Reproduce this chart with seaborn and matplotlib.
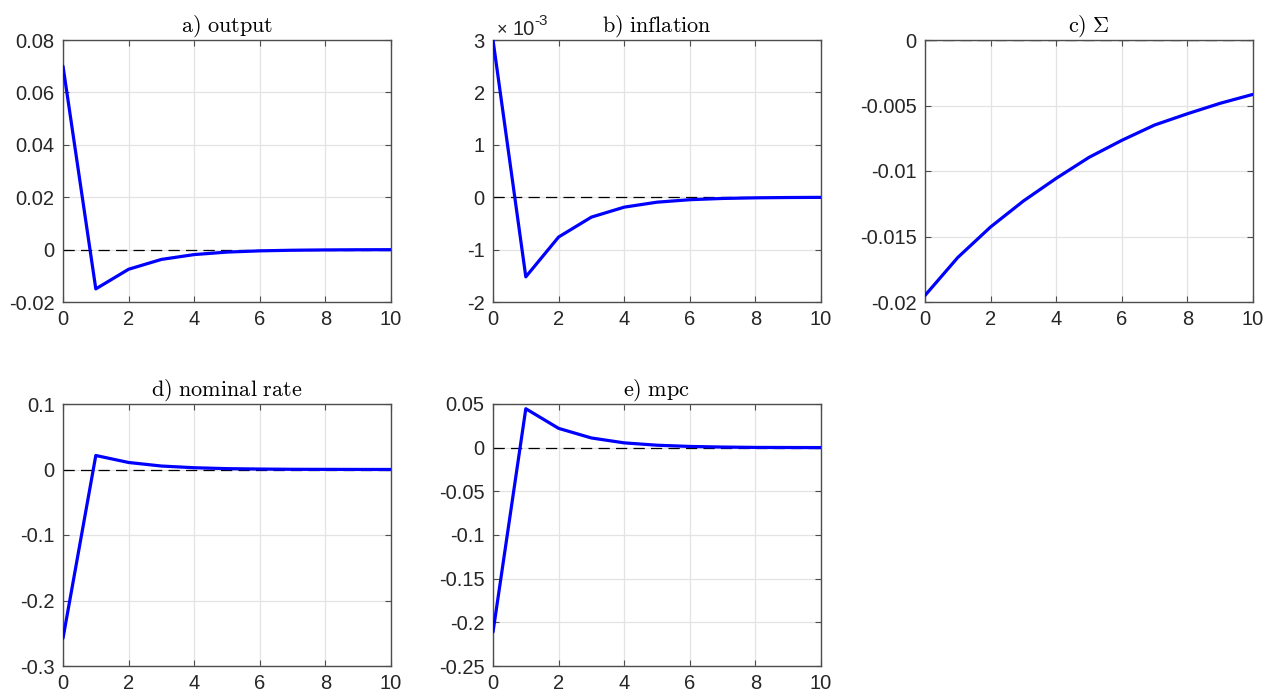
import seaborn as sns
import matplotlib
matplotlib.use("Agg")
import matplotlib.pyplot as plt
import matplotlib.ticker as mticker
import numpy as np
import pandas as pd

# impulse responses, horizons 0..10
horizon = list(range(11))
output = [0.070, -0.0150, -0.0075, -0.00375, -0.0019, -0.00095, -0.00048,
          -0.00024, -0.00012, -0.00006, -0.00003]
inflation = [3.0e-3, -1.52e-3, -0.76e-3, -0.38e-3, -0.19e-3, -0.095e-3,
             -0.048e-3, -0.024e-3, -0.012e-3, -0.006e-3, -0.003e-3]
sigma = [-0.0195, -0.0166, -0.01427, -0.01229, -0.01056, -0.00896,
         -0.00766, -0.00649, -0.00563, -0.00483, -0.00415]
nominal_rate = [-0.2576, 0.0214, 0.0107, 0.0053, 0.0027, 0.0013, 0.0007,
                0.0003, 0.0002, 0.0001, 0.00005]
mpc = [-0.2111, 0.0446, 0.0221, 0.0111, 0.0055, 0.0028, 0.0014, 0.0007,
       0.0003, 0.0002, 0.0001]

titles = [r"$\mathrm{a)\ output}$", r"$\mathrm{b)\ inflation}$",
          r"$\mathrm{c)}\ \Sigma$", r"$\mathrm{d)\ nominal\ rate}$",
          r"$\mathrm{e)\ mpc}$"]

sns.set_style("white")
plt.rcParams["font.family"] = ["Liberation Sans", "DejaVu Sans"]
plt.rcParams["mathtext.fontset"] = "cm"
plt.rcParams["axes.unicode_minus"] = False

fig = plt.figure(figsize=(12.66, 6.96), dpi=100)

W, H = 1266, 696
boxes = [(63, 40), (493, 40), (925, 40), (63, 404), (493, 404)]
aw, ah = 328, 262

panels = [
    (output, (-0.02, 0.08), 0.02, 1.0),
    (inflation, (-2, 3), 1, 1e3),
    (sigma, (-0.02, 0.0), 0.005, 1.0),
    (nominal_rate, (-0.3, 0.1), 0.1, 1.0),
    (mpc, (-0.25, 0.05), 0.05, 1.0),
]

edge = "#4d4d4d"
txt = "#262626"

for i, ((vals, ylim, step, scale), (px, py)) in enumerate(zip(panels, boxes)):
    ax = fig.add_axes([px / W, (H - py - ah) / H, aw / W, ah / H])
    df = pd.DataFrame({"t": horizon, "v": np.array(vals) * scale})
    ax.axhline(0, color="black", ls=(0, (9, 5)), lw=0.9, zorder=2)
    sns.lineplot(data=df, x="t", y="v", ax=ax, color="#0000ff", lw=2.3, zorder=3)
    ax.set_xlim(0, 10)
    ax.set_ylim(*ylim)
    ax.set_xticks(range(0, 11, 2))
    ax.yaxis.set_major_locator(mticker.MultipleLocator(step))
    ax.yaxis.set_major_formatter(mticker.FuncFormatter(lambda v, p: "{:g}".format(round(v, 6) + 0.0)))
    ax.set_xlabel("")
    ax.set_ylabel("")
    ax.grid(True, color="#e3e3e3", lw=0.9)
    ax.set_axisbelow(True)
    for s in ax.spines.values():
        s.set_color(edge)
        s.set_linewidth(1.0)
    ax.tick_params(direction="in", length=4, width=0.8, colors=edge,
                   labelcolor=txt, labelsize=14.5, top=True, right=True,
                   left=True, bottom=True, pad=6)
    ax.set_title(titles[i], fontsize=16, color="black", pad=6)
    if scale != 1.0:
        ax.annotate("\u00d7", xy=(0.0, 1.0), xycoords="axes fraction",
                    xytext=(2.5, 3.6), textcoords="offset points",
                    fontsize=13, color=txt, ha="left", va="baseline")
        ax.annotate("10", xy=(0.0, 1.0), xycoords="axes fraction",
                    xytext=(13.7, 3.6), textcoords="offset points",
                    fontsize=14.5, color=txt, ha="left", va="baseline")
        ax.annotate("-3", xy=(0.0, 1.0), xycoords="axes fraction",
                    xytext=(29.5, 10.5), textcoords="offset points",
                    fontsize=11, color=txt, ha="left", va="baseline")

fig.savefig("out.png", dpi=100)
